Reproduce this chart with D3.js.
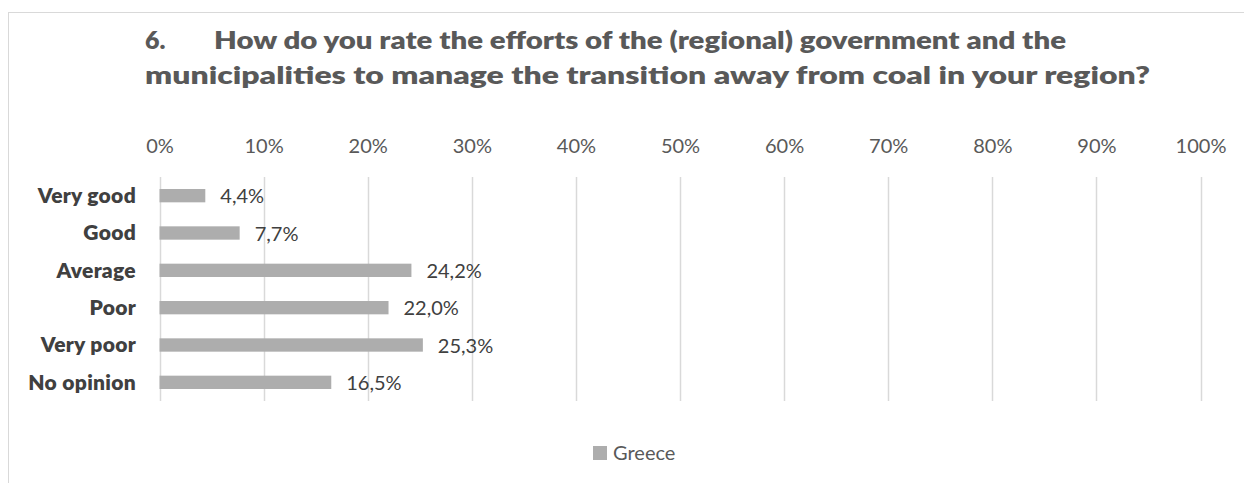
<!DOCTYPE html>
<html>
<head>
<meta charset="utf-8">
<script src="https://cdn.jsdelivr.net/npm/d3@7"></script>
<style>
  html, body { margin: 0; padding: 0; background: #fff; }
  svg { display: block; font-family: Lato, "Open Sans", sans-serif; }
</style>
</head>
<body>
<svg id="chart" width="1244" height="483"></svg>
<script>
// Survey answers, share of respondents (%)
const categories = ["Very good", "Good", "Average", "Poor", "Very poor", "No opinion"];
const greece = [4.4, 7.7, 24.2, 22.0, 25.3, 16.5];
const tickValues = [0, 10, 20, 30, 40, 50, 60, 70, 80, 90, 100];
const seriesName = "Greece";
const titleNumber = "6.";
const titleLines = [
  "How do you rate the efforts of the (regional) government and the",
  "municipalities to manage the transition away from coal in your region?"
];

const svg = d3.select("#chart");
const W = 1244, H = 483;
const FONT = "Lato, 'Open Sans', sans-serif";

// chart area frame (continues past the right and bottom edges)
svg.append("rect")
  .attr("x", 8.5).attr("y", 12.5)
  .attr("width", W + 10).attr("height", H + 10)
  .attr("fill", "#fff").attr("stroke", "#d9d9d9").attr("stroke-width", 1);

// title
const title = svg.append("g").attr("fill", "#595959")
  .attr("font-weight", 800).attr("font-size", 25);
title.append("text").attr("x", 145).attr("y", 49).text(titleNumber);
title.append("text").attr("x", 214).attr("y", 49)
  .attr("textLength", 852).attr("lengthAdjust", "spacingAndGlyphs")
  .text(titleLines[0]);
title.append("text").attr("x", 145).attr("y", 84)
  .attr("textLength", 1005).attr("lengthAdjust", "spacingAndGlyphs")
  .text(titleLines[1]);

const x = d3.scaleLinear().domain([0, 100]).range([159.5, 1200.5]);
const y = d3.scaleBand().domain(categories).range([177, 401])
  .paddingInner(1.8 / 2.8).paddingOuter(0.9 / 2.8);

// vertical gridlines
svg.append("g").selectAll("line").data(tickValues).join("line")
  .attr("x1", d => Math.round(x(d)) + 0.5).attr("x2", d => Math.round(x(d)) + 0.5)
  .attr("y1", 177).attr("y2", 401)
  .attr("stroke", "#d9d9d9").attr("stroke-width", 1.5);

// top axis labels
const xAxis = d3.axisTop(x).tickValues(tickValues)
  .tickFormat(d => d + "%").tickSize(0).tickPadding(0);
const gx = svg.append("g").attr("transform", "translate(0,152.5)").call(xAxis);
gx.select(".domain").remove();
gx.selectAll("text").attr("font-size", 20).attr("fill", "#595959")
  .attr("font-family", FONT).attr("dy", 0);

// category axis labels
const yAxis = d3.axisLeft(y).tickSize(0).tickPadding(0);
const gy = svg.append("g").attr("transform", "translate(136,0)").call(yAxis);
gy.select(".domain").remove();
gy.selectAll("text").attr("font-size", 21).attr("font-weight", 800)
  .attr("fill", "#404040").attr("font-family", FONT)
  .attr("letter-spacing", 0.3).attr("dy", "0.35em");

const rows = categories.map((c, i) => ({ c, v: greece[i] }));

// bars
svg.append("g").selectAll("rect").data(rows).join("rect")
  .attr("x", x(0)).attr("y", d => y(d.c))
  .attr("width", d => x(d.v) - x(0)).attr("height", y.bandwidth())
  .attr("fill", "#adadad");

// value labels
const fmt = v => v.toFixed(1).replace(".", ",") + "%";
svg.append("g").selectAll("text").data(rows).join("text")
  .attr("x", d => x(d.v) + 15).attr("y", d => y(d.c) + y.bandwidth() / 2)
  .attr("dy", "0.38em")
  .attr("font-size", 20).attr("fill", "#404040")
  .text(d => fmt(d.v));

// legend
const lg = svg.append("g").attr("transform", "translate(593,446)");
lg.append("rect").attr("width", 14).attr("height", 14).attr("fill", "#adadad");
lg.append("text").attr("x", 20).attr("y", 14)
  .attr("font-size", 20).attr("fill", "#595959").text(seriesName);
</script>
</body>
</html>
